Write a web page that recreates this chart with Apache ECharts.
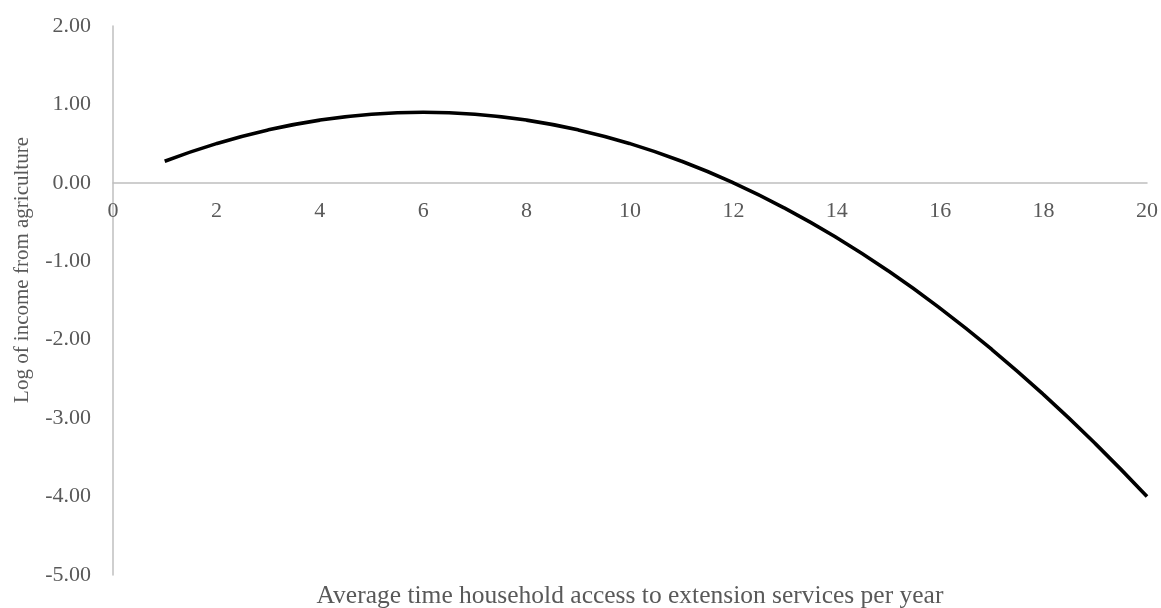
<!DOCTYPE html>
<html><head><meta charset="utf-8">
<script src="https://cdn.jsdelivr.net/npm/echarts@6/dist/echarts.min.js"></script>
<style>html,body{margin:0;padding:0;background:#fff}#c{width:1161px;height:608px}</style>
</head><body><div id="c"></div>
<script>
const xValues = [1,2,3,4,5,6,7,8,9,10,11,12,13,14,15,16,17,18,19,20];
const yValues = [0.275,0.50,0.675,0.80,0.875,0.90,0.875,0.80,0.675,0.50,0.275,0.00,-0.325,-0.70,-1.125,-1.60,-2.125,-2.70,-3.325,-4.00];
const xTitle = 'Average time household access to extension services per year';
const yTitle = 'Log of income from agriculture';

const font = '"Liberation Serif", "DejaVu Serif", serif';
const gridTop = 26, gridBottom = 33, H = 608;
const yMin = -5, yMax = 2;
const plotH = H - gridTop - gridBottom;
const zeroOffset = -plotH * (0 - yMin) / (yMax - yMin);

const chart = echarts.init(document.getElementById('c'));
chart.setOption({
  animation: false,
  grid: { left: 113, right: 14, top: gridTop, bottom: gridBottom, containLabel: false, outerBoundsMode: 'none' },
  xAxis: {
    type: 'value', min: 0, max: 20, interval: 2, position: 'bottom', offset: zeroOffset,
    axisLine: { show: true, onZero: false, lineStyle: { color: '#bfbfbf', width: 1.5 } },
    axisTick: { show: false },
    splitLine: { show: false },
    axisLabel: { fontFamily: font, fontSize: 22, color: '#595959', margin: 17 }
  },
  yAxis: {
    type: 'value', min: yMin, max: yMax, interval: 1,
    axisLine: { show: true, lineStyle: { color: '#bfbfbf', width: 1.5 } },
    axisTick: { show: false },
    splitLine: { show: false },
    axisLabel: { fontFamily: font, fontSize: 22, color: '#595959', margin: 22, formatter: v => v.toFixed(2) }
  },
  graphic: [{
    type: 'text', x: 630, y: 596,
    style: { text: xTitle, font: '25.5px ' + font, fill: '#595959', align: 'center', verticalAlign: 'middle' }
  }, {
    type: 'text', x: 22, y: 270, rotation: Math.PI / 2,
    style: { text: yTitle, font: '21px ' + font, fill: '#595959', align: 'center', verticalAlign: 'middle' }
  }],
  series: [{
    type: 'line', smooth: true, symbol: 'none',
    data: xValues.map((x, i) => [x, yValues[i]]),
    lineStyle: { color: '#000', width: 3.6 }
  }]
});
</script></body></html>
